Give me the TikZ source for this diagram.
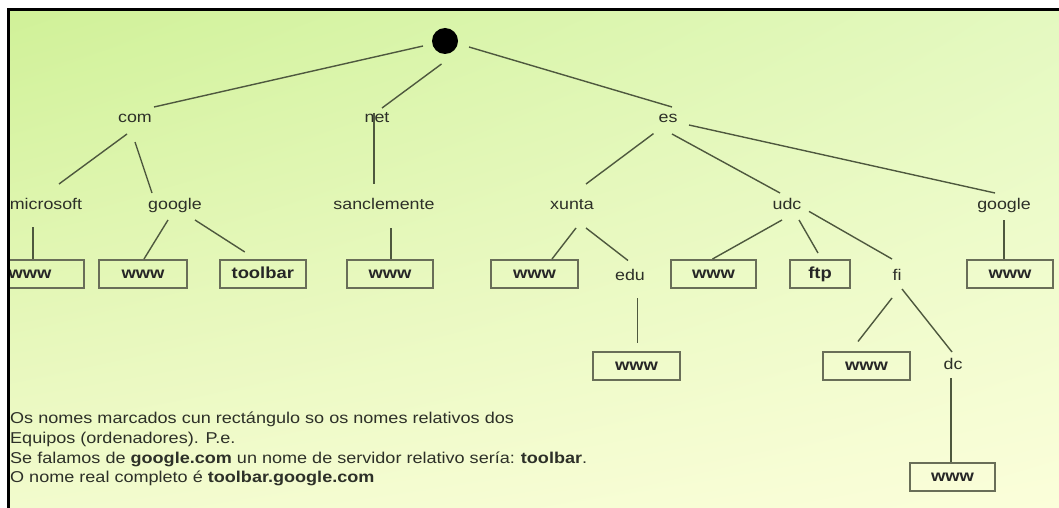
\documentclass[tikz,border=0pt]{standalone}
\usepackage{fontspec}
\setmainfont{Liberation Sans}[FakeStretch=1.15]
\usetikzlibrary{calc,shadings}
\definecolor{bgUL}{RGB}{208,241,152}
\definecolor{bgUR}{RGB}{228,249,192}
\definecolor{bgLL}{RGB}{242,251,205}
\definecolor{bgLR}{RGB}{251,254,218}
\definecolor{edgec}{RGB}{78,88,62}
\definecolor{boxc}{RGB}{105,110,88}
\definecolor{txt}{RGB}{45,48,40}
\begin{document}
\begin{tikzpicture}[x=1pt,y=-1pt,
  lbl/.style={anchor=base,inner sep=0pt,text=txt,font=\fontsize{15.5}{18}\selectfont},
  hostbox/.style={draw=boxc,line width=2pt,minimum height=28pt,inner sep=0pt,text height=12pt,text depth=3pt,text=black!85,font=\fontsize{16}{18}\selectfont\bfseries},
  edge/.style={draw=edgec,line width=1.4pt},
  note/.style={anchor=base west,inner sep=0pt,text=txt,font=\fontsize{15.7}{19.5}\selectfont}]
\useasboundingbox (0,0) rectangle (1059,508);
\fill[white] (0,0) rectangle (1059,508);
\shade[upper left=bgUL,upper right=bgUR,lower left=bgLL,lower right=bgLR] (8,10) rectangle (1059,508);
\begin{scope}
\clip (8,10) rectangle (1059,508);
% root
\node[circle,fill=black,minimum size=26pt,inner sep=0pt] (root) at (445,41) {};
% labels
\node[lbl] (com) at (135,122) {com};
\node[lbl] (net) at (377,122) {net};
\node[lbl] (es) at (668,122) {es};
\node[lbl] (ms) at (46,209) {microsoft};
\node[lbl] (goo) at (175,209) {google};
\node[lbl] (sanc) at (384,209) {sanclemente};
\node[lbl] (xunta) at (572,209) {xunta};
\node[lbl] (udc) at (787,209) {udc};
\node[lbl] (goo2) at (1004,209) {google};
\node[lbl] (edu) at (630,280) {edu};
\node[lbl] (fi) at (897,280) {fi};
\node[lbl] (dc) at (953,369) {dc};
% host boxes
\node[hostbox,minimum width=108pt] (mswww) at (30,274) {www};
\node[hostbox,minimum width=88pt] (gwww) at (143,274) {www};
\node[hostbox,minimum width=85.5pt] (tb) at (262.8,274) {toolbar};
\node[hostbox,minimum width=85.5pt] (swww) at (390,274) {www};
\node[hostbox,minimum width=87pt] (xwww) at (534.5,274) {www};
\node[hostbox,minimum width=85pt] (uwww) at (713.5,274) {www};
\node[hostbox,minimum width=60pt] (ftp) at (820,274) {ftp};
\node[hostbox,minimum width=86pt] (g2www) at (1010,274) {www};
\node[hostbox,minimum width=87pt] (ewww) at (636.5,365.5) {www};
\node[hostbox,minimum width=87pt] (fiwww) at (866.5,365.5) {www};
\node[hostbox,minimum width=85pt] (dcwww) at (952.5,476.5) {www};
% edges
\draw[edge] ($(root.center)+(-22,5)$) -- ($(com.base)+(19,-15)$);
\draw[edge] ($(root.center)+(-3.5,23)$) -- ($(net.base)+(5,-14)$);
\draw[edge] ($(root.center)+(24,6)$) -- ($(es.base)+(4,-15)$);
\draw[edge] ($(net.base)+(-3,-9)$) -- ($(sanc.base)+(-10,-25)$);
\draw[edge] ($(com.base)+(-8,12)$) -- ($(ms.base)+(13,-25)$);
\draw[edge] ($(com.base)+(0,20)$) -- ($(goo.base)+(-23,-16)$);
\draw[edge] ($(ms.base)+(-13,18)$) -- ([xshift=-13pt]ms.base |- mswww.north);
\draw[edge] ($(goo.base)+(-7,11)$) -- ($(gwww.north)+(1,0)$);
\draw[edge] ($(goo.base)+(20,11)$) -- ($(tb.north)+(-18,-7)$);
\draw[edge] ($(sanc.base)+(7,19)$) -- ([xshift=7pt]sanc.base |- swww.north);
\draw[edge] ($(es.base)+(-14.5,11.6)$) -- ($(xunta.base)+(14,-25)$);
\draw[edge] ($(es.base)+(4,12)$) -- ($(udc.base)+(-7,-16)$);
\draw[edge] ($(es.base)+(21,3)$) -- ($(goo2.base)+(-9,-16)$);
\draw[edge] ($(xunta.base)+(4,19)$) -- ($(xwww.north)+(17.5,0)$);
\draw[edge] ($(xunta.base)+(14,19)$) -- ($(edu.base)+(-2,-19.5)$);
\draw[edge] ($(udc.base)+(-5,11)$) -- ($(uwww.north)+(-1,0)$);
\draw[edge] ($(udc.base)+(12,11)$) -- ($(ftp.north)+(-2,-6)$);
\draw[edge] ($(udc.base)+(22,2.4)$) -- ($(fi.base)+(-5,-21)$);
\draw[edge] ($(goo2.base)+(0,11)$) -- (goo2.base |- g2www.north);
\draw[edge] ($(edu.base)+(7.6,18)$) -- ([xshift=7.6pt,yshift=8pt]edu.base |- ewww.north);
\draw[edge] ($(fi.base)+(-5,18)$) -- ($(fiwww.north)+(-8.5,-9)$);
\draw[edge] ($(fi.base)+(5,9)$) -- ($(dc.base)+(-1,-17)$);
\draw[edge] ($(dc.base)+(-2,9)$) -- ([xshift=-2pt]dc.base |- dcwww.north);
% note
\node[note] (n1) at (10,423.5) {Os nomes marcados cun rectángulo so os nomes relativos dos};
\node[note] (n2) at (10,443.5) {Equipos (ordenadores). P.e.};
\node[note] (n3) at (10,463.5) {Se falamos de \textbf{google.com} un nome de servidor relativo sería:\hspace{6pt}\textbf{toolbar}.};
\node[note] (n4) at (10,482.5) {O nome real completo é \textbf{toolbar.google.com}};
\end{scope}
\draw[line width=3pt] (8,508) -- (8,10) -- (1059,10);
\end{tikzpicture}
\end{document}
